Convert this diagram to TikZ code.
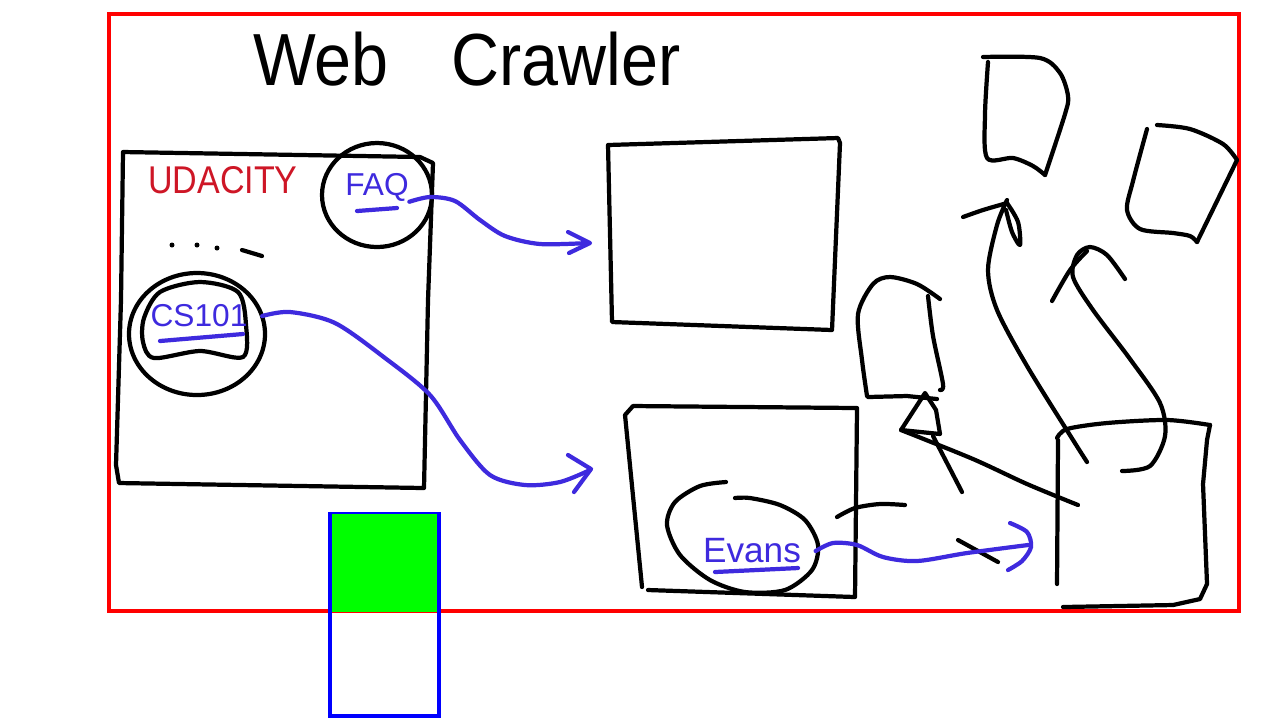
\documentclass[tikz,border=0pt]{standalone}
\usepackage{fontspec}
\setmainfont{Liberation Sans}
\usetikzlibrary{calc}
\definecolor{inkblue}{RGB}{62,42,222}
\definecolor{inkred}{RGB}{206,22,38}
\definecolor{boxgreen}{RGB}{0,255,0}
\tikzset{
	pen/.style={line width=1.2pt, line cap=round, line join=round},
	bluepen/.style={pen, color=inkblue},
	frame/.style={line width=1.3pt},
}

\begin{document}
\begin{tikzpicture}[x=0.01cm, y=-0.01cm]
			%%%%% START %%%%%
			\useasboundingbox[fill=white] (0,0) rectangle (1280,720);
			
			\draw[frame, color=red] (109,14) rectangle (1239,611);
			
			\node[font=\fontsize{21}{25}\selectfont, inner sep=0] (title) at (467,59) {\scalebox{0.9}[1]{Web \hspace{14pt}Crawler}};
			
			% udacity page
			\draw[pen] (123,152) -- (420,157) -- (433,163) -- (428,300) -- (424,488) -- (119,483) -- (116,465) -- (121,300) -- cycle;
			\node[font=\fontsize{11}{13}\selectfont, color=inkred, inner sep=0] (udacity) at (223,180) {\scalebox{0.88}[1]{UDACITY}};
			
			\draw[pen] (377,195) ellipse [x radius=55, y radius=52];
			\node[font=\fontsize{9}{11}\selectfont, color=inkblue, inner sep=0] (faq) at (377,187) {FAQ};
			\draw[bluepen] (357,211) -- (397,208);
			
			\fill (172,245) circle (2.5);
			\fill (197,245) circle (2.5);
			\fill (217,248) circle (2.5);
			\draw[pen] (242,250) -- (262,256);
			
			\draw[pen] (197,334) ellipse [x radius=68, y radius=61];
			\draw[pen] plot[smooth cycle] coordinates {(144,318) (160,292) (200,282) (238,292) (246,325) (243,357) (200,351) (154,358) (143,342)};
			\node[font=\fontsize{9}{11}\selectfont, color=inkblue, inner sep=0] (cs) at (199,316) {CS101};
			\draw[bluepen] (160,341) -- (243,334);
			
			% fetched pages
			\draw[pen] (608,145) -- (838,138) -- (840,143) -- (832,330) -- (612,322) -- cycle;
			\draw[pen] (642,587) -- (625,415) -- (633,406) -- (857,408) -- (855,597) -- (648,590);
			
			\draw[pen] plot[smooth] coordinates {(726,482) (700,486) (675,502) (667,525) (680,555) (710,580) (745,592) (785,590) (812,570) (818,545) (805,520) (780,505) (750,498) (735,498)};
			\node[font=\fontsize{10}{12}\selectfont, color=inkblue, inner sep=0] (evans) at (752,551) {Evans};
			\draw[bluepen] (715,572) -- (798,568);
			
			\draw[pen] plot[smooth] coordinates {(837,517) (855,508) (880,504) (905,505)};
			\draw[pen] (958,540) -- (998,562);
			
			% links
			\draw[bluepen] plot[smooth] coordinates {(faq.south east) (430,197) (455,201) (480,220) (505,236) (540,244) (588,243)};
			\draw[bluepen] (568,232) -- (590,243) -- (569,253);
			
			\draw[bluepen] plot[smooth] coordinates {([xshift=4pt]cs.east) (290,312) (335,323) (385,358) (430,395) (460,440) (490,475) (525,485) (560,482) (590,470)};
			\draw[bluepen] (568,455) -- (591,469) -- (574,492);
			
			\draw[bluepen] plot[smooth] coordinates {([xshift=4pt]evans.east) (833,543) (857,545) (883,557) (917,561) (967,553) (1028,545)};
			\draw[bluepen] plot[smooth] coordinates {(1010,523) (1027,532) (1031,547) (1022,561) (1008,570)};
			
			% more pages
			\draw[pen] plot[smooth] coordinates {(867,396) (862,360) (858,314) (873,284) (890,277) (917,284) (940,299)};
			\draw[pen] plot[smooth] coordinates {(928,296) (933,336) (943,384) (940,390)};
			\draw[pen] (868,397) -- (907,396) -- (937,399);
			
			\draw[pen] (925,393) -- (901,430) -- (940,434) -- (936,410) -- cycle;
			\draw[pen] plot[smooth] coordinates {(901,430) (973,459) (1027,484) (1078,505)};
			\draw[pen] (933,436) -- (962,492);
			
			\draw[pen] plot[smooth] coordinates {(983,57) (1040,58) (1060,73) (1068,96) (1065,114) (1045,175)};
			\draw[pen] plot[smooth] coordinates {(988,62) (985,114) (987,158) (1013,158) (1033,166) (1045,175)};
			
			\draw[pen] plot[smooth] coordinates {(1157,125) (1190,129) (1223,144) (1237,160)} -- (1197,242);
			\draw[pen] plot[smooth] coordinates {(1147,129) (1133,181) (1127,210) (1140,229) (1173,233) (1190,236) (1197,242)};
			
			% store
			\draw[pen] plot[smooth] coordinates {(1057,438) (1067,429) (1107,423) (1167,420) (1210,425)};
			\draw[pen] (1210,425) -- (1207,440) -- (1203,484) -- (1207,584) -- (1200,599) -- (1173,605) -- (1063,607);
			\draw[pen] (1058,440) -- (1057,584);
			
			\draw[pen] plot[smooth] coordinates {(1087,462) (1073,440) (1027,366) (997,310) (988,270) (997,225) (1007,200)};
			\draw[pen] plot[smooth] coordinates {(963,217) (983,210) (1007,203)};
			\draw[pen] plot[smooth] coordinates {(1007,203) (1018,222) (1020,245) (1012,232) (1006,210)};
			
			\draw[pen] plot[smooth] coordinates {(1122,471) (1150,466) (1165,436) (1160,403) (1130,359) (1093,310) (1073,277) (1077,255) (1090,247) (1107,255) (1125,279)};
			\draw[pen] plot[smooth] coordinates {(1052,301) (1070,270) (1087,251)};
			
			% green box
			\fill[boxgreen] (328,513) rectangle (441,612);
			\draw[blue, line width=0.6pt] (328,513) -- (441,513);
			\draw[frame, color=blue] (330,513) -- (330,716) -- (439,716) -- (439,513);
			
			%%%%% END %%%%%
\end{tikzpicture}
\end{document}
